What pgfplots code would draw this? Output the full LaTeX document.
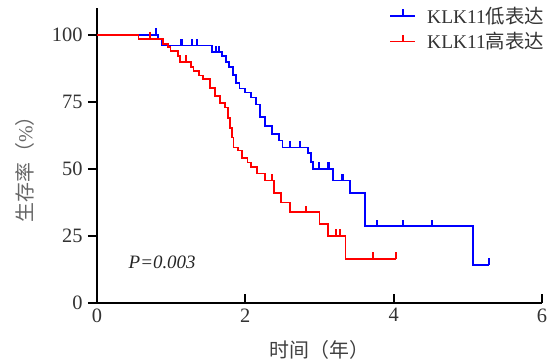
\documentclass[border=0pt]{standalone}
\usepackage{fontspec}
\setmainfont{Liberation Serif}
\newfontfamily\cjk{Noto Sans CJK SC}
\usepackage{pgfplots}
\pgfplotsset{compat=1.18}
\pgfdeclareplotmark{cens}{\pgfpathmoveto{\pgfpointorigin}\pgfpathlineto{\pgfpoint{0pt}{6.5bp}}\pgfusepathqstroke}
\pgfplotsset{censlegend/.style={legend image code/.code={\draw[##1] (0bp,0bp) -- (25bp,0bp); \draw[##1, line width=2.2bp] (12.5bp,0bp) -- (12.5bp,6.5bp);}}}

\pgfplotstableread{
t S
0 100
0.82 98.5
0.88 96
1.55 93.5
1.68 92
1.74 90
1.78 88
1.83 85
1.87 82
1.92 80
2.00 78.5
2.08 76.6
2.14 74
2.20 69.5
2.27 66
2.36 63
2.45 60.6
2.50 58
2.84 55.8
2.88 52.5
2.91 50
3.18 45.7
3.41 40.9
3.61 28.6
5.07 14.3
5.28 14.3
}\lowtab

\pgfplotstableread{
t S
0.80 100
1.14 96
1.28 96
1.35 96
1.60 93.5
1.65 93.5
2.60 58
2.74 58
2.99 50
3.12 50
3.31 45.7
3.77 28.6
4.13 28.6
4.52 28.6
5.28 14.3
}\lowcens

\pgfplotstableread{
t S
0 100
0.56 98.5
0.89 96.6
0.96 95.5
0.99 94
1.09 92
1.12 90
1.27 88
1.30 86.6
1.37 84.8
1.43 83.6
1.52 80.3
1.59 77.3
1.66 74.7
1.73 72.9
1.77 69
1.79 65.4
1.82 61.7
1.84 58
1.90 56.9
1.96 54
2.03 52.4
2.08 50.6
2.16 48.3
2.26 45.7
2.39 41
2.48 37.5
2.60 33.8
3.00 29.5
3.11 25
3.35 16.5
4.03 16.5
}\hightab

\pgfplotstableread{
t S
0.72 98.5
1.20 90
2.36 45.7
2.82 33.8
3.22 25
3.28 25
3.72 16.5
4.03 16.5
}\highcens

\begin{document}
\begin{tikzpicture}
\useasboundingbox (-97bp,-60bp) rectangle (456bp,303bp);
\begin{axis}[
  scale only axis, width=445bp, height=295bp,
  xmin=0, xmax=6, ymin=0, ymax=110,
  axis x line=bottom, axis y line=left,
  axis line style={line width=2.2bp, -},
  xtick={0,2,4,6}, ytick={0,25,50,75,100},
  tick style={line width=2bp, black},
  major tick length=9bp,
  tick align=outside,
  x tick style={yshift=9bp},
  xticklabel style={yshift=7bp},
  yticklabel style={xshift=-2bp},
  /pgf/number format/assume math mode=true,
  ticklabel style={font=\fontsize{20.5}{23}\selectfont, text=black!80},
  xlabel={{\cjk 时间（年）}},
  ylabel={{\cjk 生存率（}\%{\cjk ）}},
  every axis x label/.style={at={(axis description cs:0.5,-0.159)}, anchor=center, font=\fontsize{20}{23}\selectfont, text=black!75},
  every axis y label/.style={at={(axis description cs:-0.162,0.47)}, rotate=90, anchor=center, font=\fontsize{20}{23}\selectfont, text=black!60},
  legend style={at={(rel axis cs:1.012,1.015)}, anchor=north east, draw=none, fill=none, font=\fontsize{19.5}{21}\selectfont, row sep=4bp, column sep=9bp, text=black!80, inner sep=1bp},
  legend cell align=left,
  clip=false,
]
\addplot[blue, line width=1.8bp, const plot, censlegend] table[x=t,y=S] {\lowtab};
\addlegendentry{KLK11{\cjk 低表达}}
\addplot[red, line width=1.8bp, const plot, censlegend] table[x=t,y=S] {\hightab};
\addlegendentry{KLK11{\cjk 高表达}}
\addplot[blue, only marks, mark=cens, mark options={line width=2.2bp}, forget plot] table[x=t,y=S] {\lowcens};
\addplot[red, only marks, mark=cens, mark options={line width=2.2bp}, forget plot] table[x=t,y=S] {\highcens};
\draw[line width=2.2bp] (axis cs:-0.12,0) -- (axis cs:0,0);
\node[anchor=west, font=\fontsize{19}{21}\selectfont\itshape, text=black!85] at (axis cs:0.38,15) {P=0.003};
\end{axis}
\end{tikzpicture}
\end{document}
